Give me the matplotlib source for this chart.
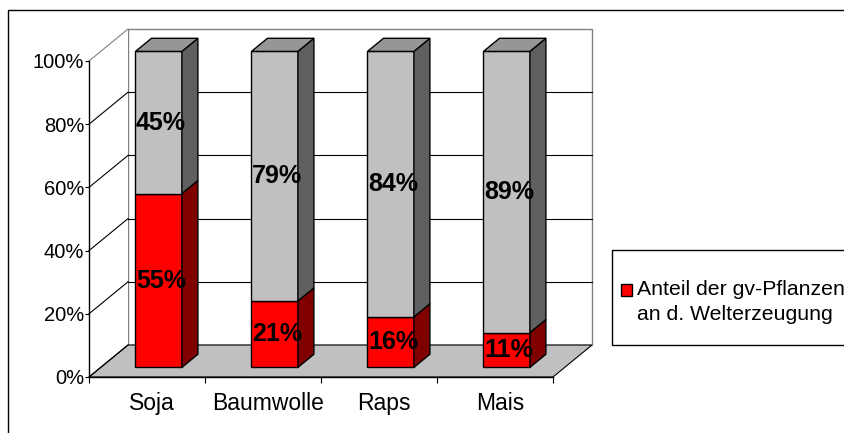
import matplotlib.pyplot as plt
from matplotlib.patches import Rectangle, Polygon

plt.rcParams['font.family'] = ['Liberation Sans', 'DejaVu Sans']

# data
categories = ['Soja', 'Baumwolle', 'Raps', 'Mais']
gv_share = [55, 21, 16, 11]       # Anteil der gv-Pflanzen
rest_share = [45, 79, 84, 89]     # uebriger Anteil
y_ticks = [0, 20, 40, 60, 80, 100]
legend_lines = ['Anteil der gv-Pflanzen', 'an d. Welterzeugung']

W, H = 845, 433
fig = plt.figure(figsize=(W / 100, H / 100), dpi=100)

# front plane of the 3d box, in pixels
x0, x1 = 89, 553
yb, yt = 377, 61
ax = fig.add_axes([x0 / W, 1 - yb / H, (x1 - x0) / W, (yb - yt) / H])
ax.set_xlim(0, len(categories))
ax.set_ylim(0, 100)
ax.set_facecolor('none')

# depth of the box, converted from pixels to data units
ddx = 39 * len(categories) / (x1 - x0)
ddy = 32 * 100 / (yb - yt)
ncat = len(categories)

wall = '#808080'
# back wall, side wall, floor
ax.add_patch(Rectangle((ddx, ddy), ncat, 100, fc='white', ec=wall, lw=1,
                       clip_on=False, zorder=1))
ax.add_patch(Polygon([(0, 0), (ddx, ddy), (ddx, 100 + ddy), (0, 100)],
                     closed=True, fc='white', ec='none', clip_on=False, zorder=1))
ax.add_patch(Polygon([(0, 0), (ncat, 0), (ncat + ddx, ddy), (ddx, ddy)],
                     closed=True, fc='#C0C0C0', ec='black', lw=0.8,
                     clip_on=False, zorder=1.2))
for v in y_ticks:
    c = wall if v == 100 else 'black'
    ax.plot([0, ddx], [v, v + ddy], color=c, lw=0.8, clip_on=False, zorder=1.3)
    if 0 < v < 100:
        ax.plot([ddx, ncat + ddx], [v + ddy, v + ddy], color='black', lw=0.8,
                clip_on=False, zorder=1.3)

# bars
bw = 0.4
d0, d1 = 0.3, 0.71
dd = d1 - d0
styles = [('#FF0000', '#800000'), ('#C0C0C0', '#606060')]
for i in range(ncat):
    left = i + 0.5 - bw / 2 + d0 * ddx
    b = d0 * ddy
    segs = [(0, gv_share[i]), (gv_share[i], gv_share[i] + rest_share[i])]
    for k, (lo, hi) in enumerate(segs):
        front, side = styles[k]
        ax.add_patch(Rectangle((left, lo + b), bw, hi - lo, fc=front, ec='black',
                               lw=1, clip_on=False, zorder=3))
        r = left + bw
        ax.add_patch(Polygon([(r, lo + b), (r + dd * ddx, lo + b + dd * ddy),
                              (r + dd * ddx, hi + b + dd * ddy), (r, hi + b)],
                             closed=True, fc=side, ec='black', lw=1,
                             clip_on=False, zorder=3))
        if k == len(segs) - 1:
            ax.add_patch(Polygon([(left, hi + b), (r, hi + b),
                                  (r + dd * ddx, hi + b + dd * ddy),
                                  (left + dd * ddx, hi + b + dd * ddy)],
                                 closed=True, fc='#969696', ec='black', lw=1,
                                 clip_on=False, zorder=3))
        ax.text(left + bw / 2 + 0.02, (lo + hi) / 2 + b, f'{hi - lo}%',
                ha='center', va='center', fontsize=18, fontweight='bold',
                zorder=4)

# axes
for s in ['top', 'right']:
    ax.spines[s].set_visible(False)
for s in ['left', 'bottom']:
    ax.spines[s].set_color('black')
    ax.spines[s].set_linewidth(1)
ax.set_yticks(y_ticks)
ax.set_yticklabels([f'{v}%' for v in y_ticks])
ax.tick_params(axis='y', length=3, pad=0.5, labelsize=14.5)
ax.set_xticks(range(ncat + 1))
ax.set_xticklabels([])
ax.set_xticks([i + 0.545 for i in range(ncat)], minor=True)
ax.set_xticklabels(categories, minor=True)
ax.tick_params(axis='x', which='major', length=4)
ax.tick_params(axis='x', which='minor', length=0, pad=11, labelsize=16.5)

# legend (drawn by hand so the marker sits at the first line)
fig.add_artist(Rectangle((612 / W, 1 - 345 / H), (870 - 612) / W, 95 / H,
                         transform=fig.transFigure, fc='white', ec='black', lw=1))
fig.add_artist(Rectangle((621 / W, 1 - 296 / H), 11 / W, 12 / H,
                         transform=fig.transFigure, fc='#FF0000', ec='black', lw=1))
fig.text(637 / W, 1 - 295 / H, legend_lines[0], fontsize=15.3, va='baseline')
fig.text(637 / W, 1 - 320 / H, legend_lines[1], fontsize=15.3, va='baseline')

# chart area border
fig.add_artist(Rectangle((8 / W, -0.1), 1.2, 1.1 - 10 / H,
                         transform=fig.transFigure, fill=False, ec='black', lw=1))

fig.savefig('out.png', dpi=100)
